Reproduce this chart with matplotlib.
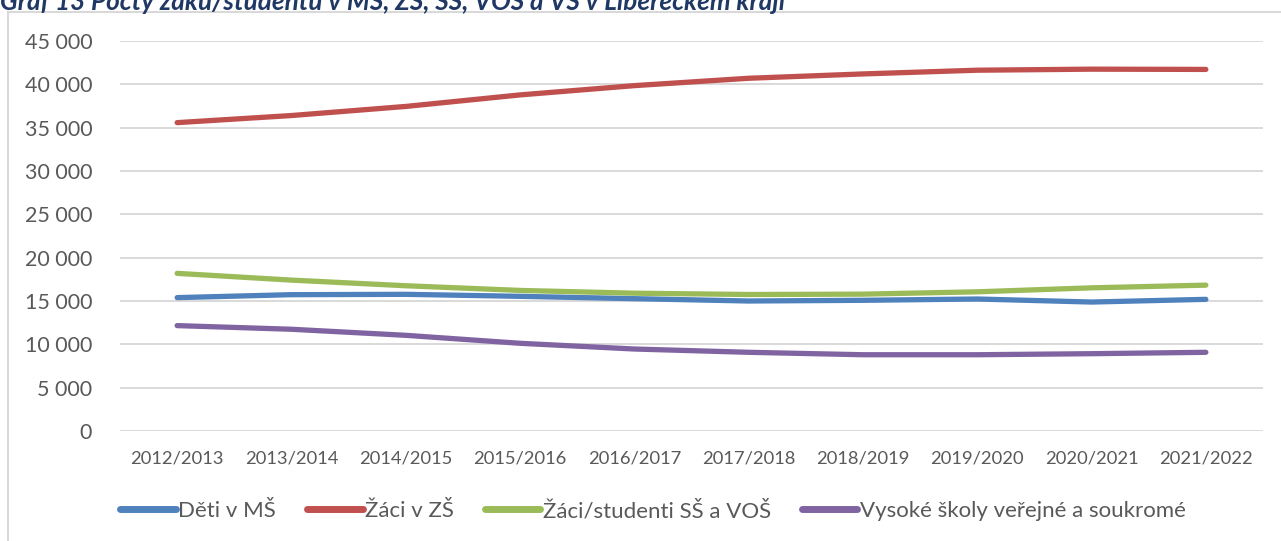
import numpy as np
import matplotlib.pyplot as plt
from matplotlib.lines import Line2D

plt.rcParams['font.family'] = ['Lato', 'DejaVu Sans']

# school years
roky = ["2012/2013", "2013/2014", "2014/2015", "2015/2016", "2016/2017",
        "2017/2018", "2018/2019", "2019/2020", "2020/2021", "2021/2022"]

deti_ms = [15390, 15730, 15770, 15540, 15270, 15000, 15080, 15230, 14880, 15190]
zaci_zs = [35580, 36400, 37450, 38780, 39850, 40700, 41200, 41630, 41750, 41720]
zaci_ss = [18190, 17410, 16760, 16220, 15900, 15750, 15790, 16060, 16520, 16830]
vs = [12160, 11740, 11040, 10120, 9460, 9080, 8800, 8800, 8920, 9080]

nazvy = ["Děti v MŠ", "Žáci v ZŠ", "Žáci/studenti SŠ a VOŠ", "Vysoké školy veřejné a soukromé"]
barvy = ["#4F81BD", "#C0504D", "#9BBB59", "#8064A2"]

W, H = 1281, 541
fig = plt.figure(figsize=(W / 100, H / 100), dpi=100)
ax = fig.add_axes([120 / W, 1 - 431 / H, 1143 / W, 390 / H])

x = np.arange(len(roky))
for data, lab, c in zip([deti_ms, zaci_zs, zaci_ss, vs], nazvy, barvy):
    ax.plot(x, data, color=c, lw=3.8, solid_capstyle='round', solid_joinstyle='round', label=lab)

ax.set_xlim(-0.5, 9.5)
ax.set_ylim(0, 45000)
ax.set_yticks(range(0, 45001, 5000))
ax.set_yticklabels([f"{v:,}".replace(",", " ") for v in range(0, 45001, 5000)])
ax.set_xticks(x)
ax.set_xticklabels(roky)
ax.grid(axis='y', color='#D9D9D9', lw=1.4)
ax.set_axisbelow(True)
for s in ax.spines.values():
    s.set_visible(False)
ax.tick_params(axis='y', length=0, pad=20, labelsize=15.5, labelcolor='#595959')
ax.tick_params(axis='x', length=0, pad=14, labelsize=13.2, labelcolor='#595959')

leg = fig.legend(loc='center', bbox_to_anchor=(653 / W, 1 - 511 / H), ncol=4, frameon=False,
                 fontsize=16, handlelength=2.5, handletextpad=0.1, columnspacing=1.4,
                 labelcolor='#595959')
for h in leg.legend_handles:
    h.set_linewidth(5)

# chart frame (cropped)
fig.add_artist(Line2D([8 / W, 8 / W], [0, 1 - 12 / H], color='#D9D9D9', lw=1.5))
fig.add_artist(Line2D([8 / W, 1], [1 - 12 / H, 1 - 12 / H], color='#D9D9D9', lw=1.5))

# title cut off by the screenshot
fig.text(0, 1 - 10 / H, "Graf 13 Počty žáků/studentů v MŠ, ZŠ, SŠ, VOŠ a VŠ v Libereckém kraji",
         fontsize=18.8, fontweight='bold', fontstyle='italic', color='#1F3864', va='baseline')

fig.savefig("out.png", dpi=100)
